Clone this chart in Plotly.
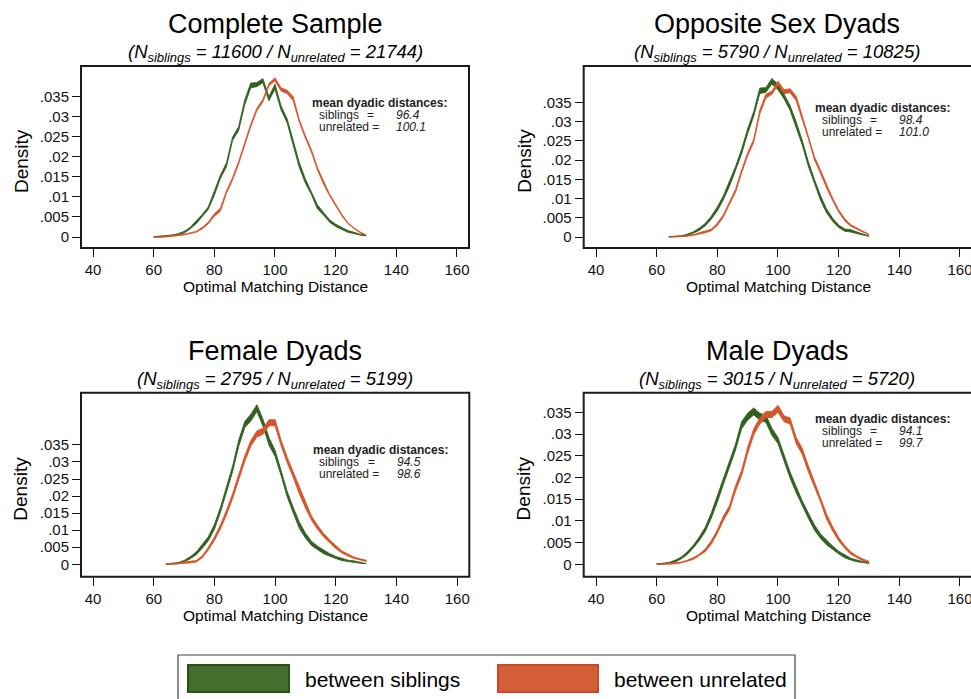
import plotly.graph_objects as go

W, H = 971, 699

# ---------------- data ----------------
x_grid = list(range(60, 131, 2))  # evaluation points 60, 62, ..., 130

panel_titles = ["Complete Sample", "Opposite Sex Dyads", "Female Dyads", "Male Dyads"]
n_siblings = [11600, 5790, 2795, 3015]
n_unrelated = [21744, 10825, 5199, 5720]
mean_siblings = [96.4, 98.4, 94.5, 94.1]
mean_unrelated = [100.1, 101.0, 98.6, 99.7]
y_tick_vals = [0, 0.005, 0.01, 0.015, 0.02, 0.025, 0.03, 0.035]
y_tick_text = ["0", ".005", ".01", ".015", ".02", ".025", ".03", ".035"]
x_tick_vals = [40, 60, 80, 100, 120, 140, 160]
legend_labels = ["between siblings", "between unrelated"]

# Complete sample
p1_sib = [0.0000, 0.0001, 0.0002, 0.0004, 0.0007, 0.0012,
          0.0022, 0.0036, 0.0053, 0.0072, 0.0110, 0.0150, 0.0180, 0.0245, 0.0270, 0.0335,
          0.0378, 0.0380, 0.0390, 0.0345, 0.0375, 0.0322, 0.0290, 0.0235, 0.0180, 0.0140,
          0.0110, 0.0075, 0.0058, 0.0040, 0.0029, 0.0021, 0.0014, 0.0010, 0.0006, 0.0004]
p1_sib_hw = [0.0001, 0.0001, 0.0001, 0.0001, 0.0001, 0.0002,
             0.0002, 0.0003, 0.0003, 0.0003, 0.0006, 0.0004, 0.0005, 0.0004, 0.0005, 0.0006,
             0.0006, 0.0005, 0.0005, 0.0005, 0.0006, 0.0005, 0.0005, 0.0006, 0.0006, 0.0005,
             0.0004, 0.0005, 0.0003, 0.0003, 0.0003, 0.0002, 0.0002, 0.0002, 0.0001, 0.0001]
p1_unr = [0.0000, 0.0000, 0.0001, 0.0002, 0.0004, 0.0006,
          0.0009, 0.0013, 0.0022, 0.0035, 0.0055, 0.0068, 0.0112, 0.0145, 0.0185, 0.0232,
          0.0278, 0.0318, 0.0340, 0.0380, 0.0393, 0.0368, 0.0362, 0.0345, 0.0290, 0.0250,
          0.0215, 0.0170, 0.0135, 0.0105, 0.0080, 0.0055, 0.0035, 0.0022, 0.0012, 0.0006]
p1_unr_hw = [0.0000, 0.0000, 0.0001, 0.0001, 0.0001, 0.0001,
             0.0001, 0.0001, 0.0002, 0.0002, 0.0003, 0.0004, 0.0003, 0.0003, 0.0003, 0.0003,
             0.0003, 0.0003, 0.0003, 0.0003, 0.0004, 0.0004, 0.0004, 0.0005, 0.0003, 0.0003,
             0.0003, 0.0003, 0.0003, 0.0002, 0.0002, 0.0002, 0.0001, 0.0001, 0.0001, 0.0001]

# Opposite sex dyads
p2_sib = [None, None, 0.0000, 0.0001, 0.0002, 0.0005,
          0.0011, 0.0020, 0.0032, 0.0050, 0.0073, 0.0102, 0.0138, 0.0178, 0.0222, 0.0275,
          0.0320, 0.0380, 0.0382, 0.0405, 0.0390, 0.0365, 0.0335, 0.0292, 0.0245, 0.0190,
          0.0145, 0.0102, 0.0068, 0.0045, 0.0028, 0.0018, 0.0016, 0.0012, 0.0007, 0.0003]
p2_sib_hw = [0, 0, 0.0001, 0.0001, 0.0001, 0.0002,
             0.0002, 0.0003, 0.0003, 0.0004, 0.0005, 0.0005, 0.0006, 0.0005, 0.0006, 0.0006,
             0.0006, 0.0007, 0.0006, 0.0007, 0.0007, 0.0006, 0.0006, 0.0007, 0.0006, 0.0006,
             0.0005, 0.0006, 0.0005, 0.0004, 0.0003, 0.0003, 0.0003, 0.0002, 0.0002, 0.0001]
p2_unr = [None, None, 0.0000, 0.0001, 0.0002, 0.0003,
          0.0005, 0.0009, 0.0013, 0.0018, 0.0033, 0.0055, 0.0088, 0.0120, 0.0170, 0.0215,
          0.0250, 0.0325, 0.0366, 0.0375, 0.0400, 0.0378, 0.0380, 0.0360, 0.0310, 0.0260,
          0.0205, 0.0170, 0.0132, 0.0098, 0.0068, 0.0045, 0.0030, 0.0022, 0.0013, 0.0006]
p2_unr_hw = [0, 0, 0.0000, 0.0001, 0.0001, 0.0001,
             0.0001, 0.0002, 0.0002, 0.0002, 0.0003, 0.0003, 0.0003, 0.0004, 0.0004, 0.0004,
             0.0004, 0.0005, 0.0005, 0.0004, 0.0005, 0.0005, 0.0005, 0.0006, 0.0005, 0.0004,
             0.0004, 0.0004, 0.0004, 0.0003, 0.0003, 0.0003, 0.0002, 0.0002, 0.0001, 0.0001]

# Female dyads
p3_sib = [None, None, 0.0000, 0.0001, 0.0003, 0.0009,
          0.0019, 0.0032, 0.0052, 0.0075, 0.0110, 0.0160, 0.0220, 0.0280, 0.0355, 0.0410,
          0.0430, 0.0458, 0.0415, 0.0360, 0.0325, 0.0268, 0.0205, 0.0158, 0.0114, 0.0084,
          0.0061, 0.0048, 0.0036, 0.0027, 0.0020, 0.0014, 0.0010, 0.0008, 0.0005, 0.0003]
p3_sib_hw = [0, 0, 0.0001, 0.0001, 0.0002, 0.0002,
             0.0003, 0.0004, 0.0005, 0.0006, 0.0007, 0.0007, 0.0008, 0.0008, 0.0009, 0.0009,
             0.0010, 0.0010, 0.0010, 0.0011, 0.0009, 0.0009, 0.0008, 0.0008, 0.0009, 0.0007,
             0.0006, 0.0005, 0.0005, 0.0004, 0.0003, 0.0003, 0.0002, 0.0002, 0.0002, 0.0001]
p3_unr = [None, None, 0.0000, 0.0001, 0.0002, 0.0004,
          0.0006, 0.0009, 0.0022, 0.0046, 0.0075, 0.0110, 0.0152, 0.0200, 0.0255, 0.0310,
          0.0355, 0.0382, 0.0390, 0.0415, 0.0415, 0.0355, 0.0305, 0.0262, 0.0215, 0.0172,
          0.0135, 0.0108, 0.0085, 0.0067, 0.0050, 0.0036, 0.0027, 0.0019, 0.0014, 0.0010]
p3_unr_hw = [0, 0, 0.0000, 0.0001, 0.0001, 0.0001,
             0.0002, 0.0002, 0.0003, 0.0004, 0.0005, 0.0006, 0.0007, 0.0007, 0.0008, 0.0008,
             0.0008, 0.0009, 0.0009, 0.0009, 0.0009, 0.0008, 0.0008, 0.0008, 0.0009, 0.0007,
             0.0006, 0.0006, 0.0005, 0.0004, 0.0004, 0.0003, 0.0003, 0.0002, 0.0002, 0.0002]

# Male dyads
p4_sib = [0.0000, 0.0001, 0.0003, 0.0007, 0.0014, 0.0025,
          0.0040, 0.0058, 0.0080, 0.0112, 0.0150, 0.0190, 0.0228, 0.0270, 0.0320, 0.0340,
          0.0352, 0.0340, 0.0335, 0.0305, 0.0285, 0.0245, 0.0205, 0.0172, 0.0140, 0.0112,
          0.0085, 0.0065, 0.0050, 0.0038, 0.0027, 0.0018, 0.0012, 0.0008, 0.0005, 0.0003]
p4_sib_hw = [0.0001, 0.0001, 0.0001, 0.0002, 0.0002, 0.0003,
             0.0003, 0.0004, 0.0005, 0.0006, 0.0007, 0.0006, 0.0007, 0.0007, 0.0008, 0.0008,
             0.0008, 0.0008, 0.0008, 0.0008, 0.0007, 0.0007, 0.0007, 0.0007, 0.0006, 0.0006,
             0.0006, 0.0005, 0.0005, 0.0004, 0.0003, 0.0003, 0.0002, 0.0002, 0.0001, 0.0001]
p4_unr = [0.0000, 0.0001, 0.0001, 0.0002, 0.0004, 0.0008,
          0.0013, 0.0021, 0.0032, 0.0050, 0.0075, 0.0106, 0.0130, 0.0175, 0.0210, 0.0262,
          0.0305, 0.0330, 0.0345, 0.0345, 0.0358, 0.0335, 0.0330, 0.0285, 0.0260, 0.0220,
          0.0185, 0.0150, 0.0110, 0.0082, 0.0058, 0.0040, 0.0026, 0.0017, 0.0010, 0.0006]
p4_unr_hw = [0.0000, 0.0000, 0.0001, 0.0001, 0.0001, 0.0001,
             0.0002, 0.0002, 0.0003, 0.0004, 0.0004, 0.0005, 0.0005, 0.0006, 0.0006, 0.0007,
             0.0007, 0.0007, 0.0007, 0.0007, 0.0008, 0.0007, 0.0007, 0.0007, 0.0007, 0.0007,
             0.0006, 0.0006, 0.0006, 0.0005, 0.0004, 0.0003, 0.0003, 0.0002, 0.0002, 0.0001]

series = [
    (p1_sib, p1_sib_hw, p1_unr, p1_unr_hw),
    (p2_sib, p2_sib_hw, p2_unr, p2_unr_hw),
    (p3_sib, p3_sib_hw, p3_unr, p3_unr_hw),
    (p4_sib, p4_sib_hw, p4_unr, p4_unr_hw),
]

# ---------------- layout (pixel boxes) ----------------
# (left, right, top, bottom) of each plot region, x range, y range
boxes = [
    (81, 469, 66, 248, [36.04, 163.97], [-0.00274, 0.04265]),
    (583.7, 971, 66, 248, [35.94, 163.64], [-0.00286, 0.04444]),
    (81, 469.3, 392.7, 576.7, [36.04, 163.97], [-0.00364, 0.05032]),
    (583.7, 971, 392.7, 576.7, [35.94, 163.64], [-0.00286, 0.03951]),
]

GREEN = "#31611f"
ORANGE = "#d6552a"
FONT = "Liberation Sans, Arial, sans-serif"


def px(x):
    return x / W


def py(y):
    return 1 - y / H


def band(xs, mid, hw):
    pts = [(x, m, h) for x, m, h in zip(xs, mid, hw) if m is not None]
    bx = [p[0] for p in pts]
    hi = [p[1] + p[2] for p in pts]
    lo = [max(p[1] - p[2], 0) for p in pts]
    return bx + bx[::-1], hi + lo[::-1]


fig = go.Figure()
annotations = []
shapes = []

for i, (sib, sib_hw, unr, unr_hw) in enumerate(series):
    L, R, T, B, xr, yr = boxes[i]
    ax = "" if i == 0 else str(i + 1)
    xa, ya = "x" + ax, "y" + ax
    for mid, hw, col, name in [(sib, sib_hw, GREEN, legend_labels[0]),
                               (unr, unr_hw, ORANGE, legend_labels[1])]:
        bx, by = band(x_grid, mid, hw)
        fig.add_trace(go.Scatter(x=bx, y=by, xaxis=xa, yaxis=ya, fill="toself",
                                 fillcolor=col, mode="lines",
                                 line=dict(color=col, width=0.9),
                                 name=name, showlegend=False, hoverinfo="skip"))
    fig.layout["xaxis" + ax] = dict(
        domain=[px(L), px(R)], range=xr, anchor=ya, tickvals=x_tick_vals,
        ticks="outside", ticklen=8, tickwidth=1.3, tickcolor="#111",
        showgrid=False, zeroline=False, showline=False, automargin=False,
        ticklabeloverflow="allow",
        tickfont=dict(family=FONT, size=15, color="#111"), ticklabelstandoff=0)
    fig.layout["yaxis" + ax] = dict(
        domain=[py(B), py(T)], range=yr, anchor=xa, tickvals=y_tick_vals,
        ticktext=y_tick_text, ticks="outside", ticklen=8, tickwidth=1.3,
        tickcolor="#111", showgrid=False, zeroline=False, showline=False,
        automargin=False, ticklabeloverflow="allow",
        tickfont=dict(family=FONT, size=15, color="#111"))
    # plot box
    shapes.append(dict(type="rect", xref="paper", yref="paper",
                       x0=px(L), x1=px(R + 4 if R >= 971 else R), y0=py(B), y1=py(T),
                       line=dict(color="#1a1a1a", width=2), fillcolor="rgba(0,0,0,0)"))
    cx = (L + min(R, 971)) / 2
    # titles
    annotations.append(dict(xref="paper", yref="paper", x=px(cx), y=py(T - 42),
                            text=panel_titles[i], showarrow=False, xanchor="center",
                            yanchor="middle", font=dict(family=FONT, size=27, color="#000")))
    sub = ("<i>(N<sub>siblings</sub> = %d / N<sub>unrelated</sub> = %d)</i>"
           % (n_siblings[i], n_unrelated[i]))
    annotations.append(dict(xref="paper", yref="paper", x=px(cx), y=py(T - 13),
                            text=sub, showarrow=False, xanchor="center", yanchor="middle",
                            font=dict(family=FONT, size=18.5, color="#000")))
    # axis titles
    annotations.append(dict(xref="paper", yref="paper", x=px(L - 60), y=py((T + B) / 2 + 4),
                            text="Density", textangle=-90, showarrow=False,
                            xanchor="center", yanchor="middle",
                            font=dict(family=FONT, size=19, color="#000")))
    annotations.append(dict(xref="paper", yref="paper", x=px(L + 194.5), y=py(B + 39),
                            text="Optimal Matching Distance", showarrow=False,
                            xanchor="center", yanchor="middle",
                            font=dict(family=FONT, size=15.5, color="#000")))
    # mean dyadic distances text
    tf = dict(family=FONT, size=12, color="#222")
    base = dict(xref=xa, yref=ya, x=112, y=0.0335, showarrow=False, borderpad=0,
                xanchor="left", yanchor="middle", font=tf)
    annotations.append(dict(base, text="<b>mean dyadic distances:</b>"))
    annotations.append(dict(base, text="siblings", xshift=6.5, yshift=-12))
    annotations.append(dict(base, text="=", xshift=55, yshift=-12))
    annotations.append(dict(base, text="<i>%.1f</i>" % mean_siblings[i], xshift=84, yshift=-12))
    annotations.append(dict(base, text="unrelated =", xshift=6.5, yshift=-24))
    annotations.append(dict(base, text="<i>%.1f</i>" % mean_unrelated[i], xshift=84, yshift=-24))

# legend
shapes.append(dict(type="rect", xref="paper", yref="paper", x0=px(178), x1=px(795),
                   y0=py(703), y1=py(655), line=dict(color="#444", width=1.2),
                   fillcolor="rgba(0,0,0,0)"))
shapes.append(dict(type="rect", xref="paper", yref="paper", x0=px(188), x1=px(289),
                   y0=py(692), y1=py(665), line=dict(color="#2a5417", width=2),
                   fillcolor="#436e2e"))
shapes.append(dict(type="rect", xref="paper", yref="paper", x0=px(498), x1=px(598),
                   y0=py(692), y1=py(665), line=dict(color="#c9472a", width=2),
                   fillcolor="#d45e35"))
annotations.append(dict(xref="paper", yref="paper", x=px(303), y=py(679), text=legend_labels[0],
                        showarrow=False, xanchor="left", yanchor="middle",
                        font=dict(family=FONT, size=21, color="#000")))
annotations.append(dict(xref="paper", yref="paper", x=px(612), y=py(679), text=legend_labels[1],
                        showarrow=False, xanchor="left", yanchor="middle",
                        font=dict(family=FONT, size=21, color="#000")))

fig.update_layout(width=W, height=H, margin=dict(l=0, r=0, t=0, b=0),
                  paper_bgcolor="white", plot_bgcolor="white",
                  showlegend=False, annotations=annotations, shapes=shapes,
                  font=dict(family=FONT))
fig.write_html("out.html", config={"displayModeBar": False})

# remove the browser's default page margin so the figure fills the window exactly
with open("out.html", encoding="utf-8") as f:
    page = f.read()
page = page.replace("<head>", "<head><style>html,body{margin:0;padding:0;overflow:hidden;}</style>", 1)
with open("out.html", "w", encoding="utf-8") as f:
    f.write(page)
